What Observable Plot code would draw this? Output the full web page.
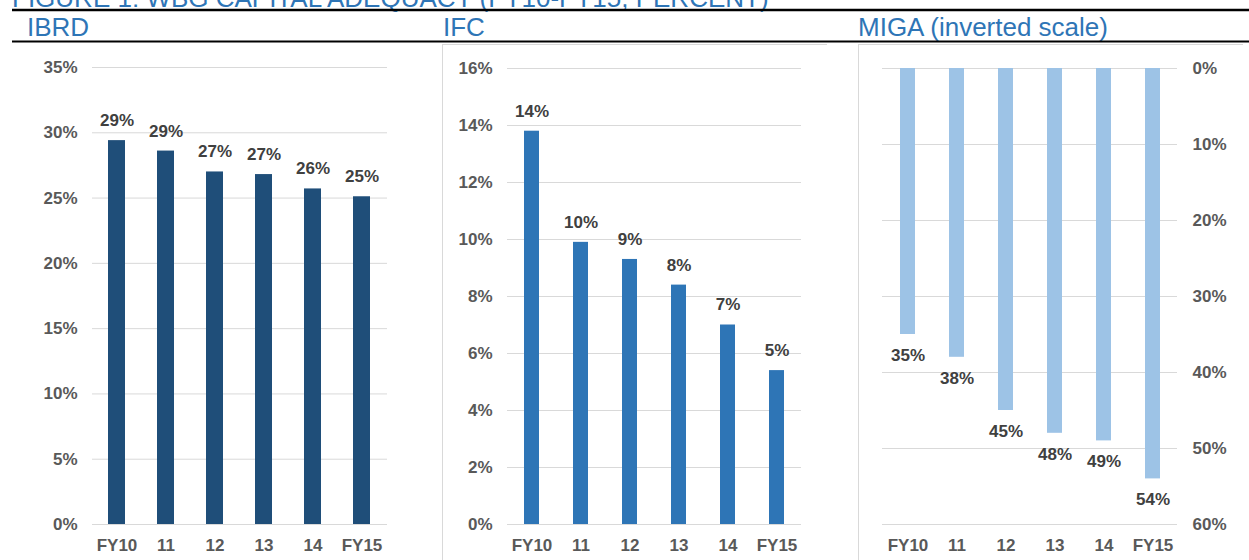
<!DOCTYPE html>
<html>
<head>
<meta charset="utf-8">
<script src="https://cdn.jsdelivr.net/npm/d3@7"></script>
<script src="https://cdn.jsdelivr.net/npm/@observablehq/plot@0.6"></script>
<style>
  html, body { margin: 0; padding: 0; background: #fff; }
  #root { position: relative; width: 1249px; height: 560px; overflow: hidden; background: #fff;
          font-family: "Liberation Sans", Arial, sans-serif; }
  .panel { position: absolute; }
  .box { position: absolute; border-top: 1px solid #d9d9d9; border-left: 1px solid #d9d9d9; }
  #header { position: absolute; left: 0; top: 0; }
</style>
</head>
<body>
<div id="root">
  <svg id="header" width="1249" height="60">
    <text x="12" y="7" fill="#2E75B6" font-size="26" font-family="Liberation Sans, Arial, sans-serif">FIGURE 1: WBG CAPITAL ADEQUACY (FY10-FY15, PERCENT)</text>
    <line x1="12" x2="1249" y1="10" y2="10" stroke="#000" stroke-width="2.5"/>
    <text x="27" y="36" fill="#2E75B6" font-size="26" font-family="Liberation Sans, Arial, sans-serif">IBRD</text>
    <text x="443" y="36" fill="#2E75B6" font-size="26" font-family="Liberation Sans, Arial, sans-serif">IFC</text>
    <text x="858" y="36" fill="#2E75B6" font-size="26" font-family="Liberation Sans, Arial, sans-serif">MIGA (inverted scale)</text>
    <line x1="12" x2="1249" y1="41.5" y2="41.5" stroke="#000" stroke-width="2"/>
  </svg>
  <div class="box" style="left:442px; top:44px; width:384px; height:520px;"></div>
  <div class="box" style="left:858px; top:44px; width:384px; height:520px;"></div>
  <div class="panel" id="ibrd" style="left:0px; top:45px;"></div>
  <div class="panel" id="ifc" style="left:443px; top:45px;"></div>
  <div class="panel" id="miga" style="left:859px; top:45px;"></div>
</div>
<script>
// ---- data ----
const years = ["FY10", "11", "12", "13", "14", "FY15"];
const ibrdValues = [29.4, 28.6, 27.0, 26.8, 25.7, 25.1];
const ifcValues = [13.8, 9.9, 9.3, 8.4, 7.0, 5.4];
const migaValues = [35.0, 38.0, 45.0, 48.0, 49.0, 54.0];
const ibrdTicks = [0, 5, 10, 15, 20, 25, 30, 35];
const ifcTicks = [0, 2, 4, 6, 8, 10, 12, 14, 16];
const migaTicks = [0, 10, 20, 30, 40, 50, 60];

const colors = { ibrd: "#1F4E79", ifc: "#2E75B6", miga: "#9DC3E6" };
const pct = d => Math.round(d) + "%";
const font = "'Liberation Sans', Arial, sans-serif";

function panel({values, ticks, fill, width, marginLeft, marginRight, marginTop, padIn, inverted}) {
  const data = years.map((year, i) => ({year, value: values[i]}));
  const yDomain = [ticks[0], ticks[ticks.length - 1]];
  return Plot.plot({
    width, height: 515,
    marginLeft, marginRight, marginTop, marginBottom: 36,
    style: { fontFamily: font, fontSize: "17px", fontWeight: "bold", color: "#595959", background: "transparent", overflow: "visible" },
    x: { domain: years, paddingInner: padIn, paddingOuter: padIn / 2, label: null },
    y: { domain: yDomain, reverse: !!inverted, label: null },
    marks: [
      Plot.gridY(ticks, { stroke: "#d9d9d9", strokeOpacity: 1, strokeWidth: 1 }),
      Plot.barY(data, { x: "year", y1: 0, y2: "value", fill }),
      Plot.text(data, { x: "year", y: "value", text: d => pct(d.value), dy: inverted ? 21 : -20,
                        fill: "#404040", fontSize: 17, fontWeight: "bold", lineAnchor: "middle" }),
      Plot.axisX({ tickSize: 0, tickPadding: 14, label: null, fill: "#595959" }),
      Plot.axisY(ticks, { anchor: inverted ? "right" : "left", tickSize: 0, tickPadding: 15,
                          tickFormat: d => d + "%", label: null, fill: "#595959" })
    ]
  });
}

document.getElementById("ibrd").appendChild(panel({
  values: ibrdValues, ticks: ibrdTicks, fill: colors.ibrd,
  width: 415, marginLeft: 92, marginRight: 28, marginTop: 22, padIn: 0.65
}));
document.getElementById("ifc").appendChild(panel({
  values: ifcValues, ticks: ifcTicks, fill: colors.ifc,
  width: 400, marginLeft: 64, marginRight: 42, marginTop: 23, padIn: 0.69
}));
document.getElementById("miga").appendChild(panel({
  values: migaValues, ticks: migaTicks, fill: colors.miga,
  width: 390, marginLeft: 23, marginRight: 72, marginTop: 23, padIn: 0.7, inverted: true
}));
</script>
</body>
</html>
